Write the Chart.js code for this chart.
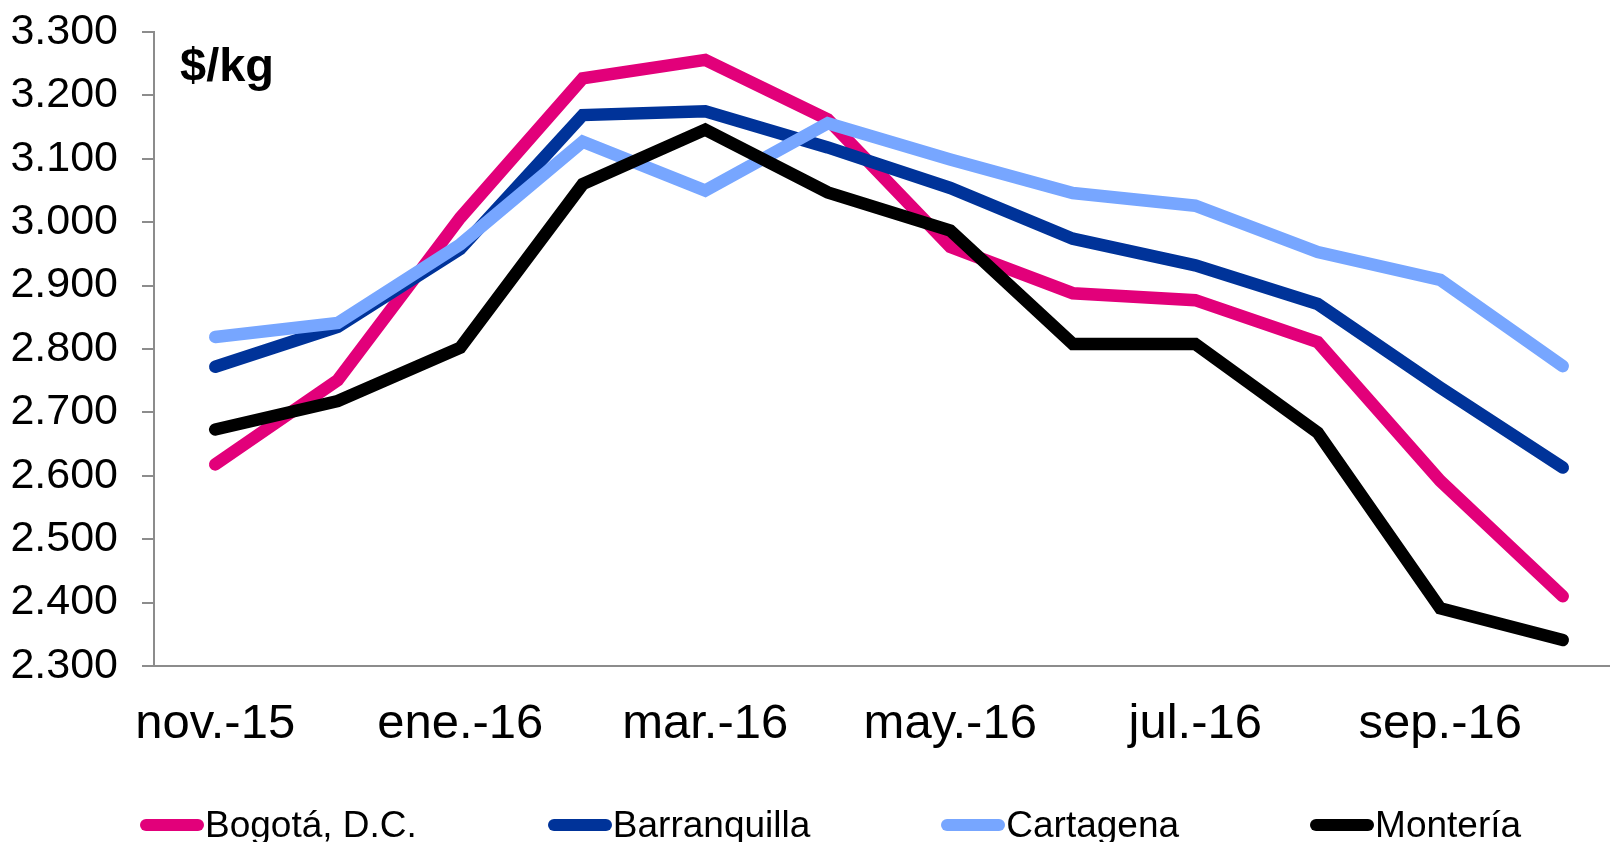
<!DOCTYPE html>
<html lang="es">
<head>
<meta charset="utf-8">
<title>Precio $/kg</title>
<script src="https://cdn.jsdelivr.net/npm/chart.js@4.4.1/dist/chart.umd.min.js"></script>
<style>
    html, body {
        margin: 0;
        padding: 0;
        background: #ffffff;
        overflow: hidden;
        width: 1610px;
        height: 842px;
    }
    #chartBox {
        position: absolute;
        left: 0;
        top: 0;
        width: 1624px;
        height: 842px;
    }
    #unidad {
        position: absolute;
        left: 180px;
        top: 41px;
        font: bold 47px "Liberation Sans", Arial, sans-serif;
        line-height: 1;
        color: #000;
    }
    #leyenda {
        position: absolute;
        left: 140px;
        top: 804px;
        display: flex;
        align-items: center;
        gap: 131px;
        font: 37px "Liberation Sans", Arial, sans-serif;
        color: #000;
        white-space: nowrap;
    }
    .item {
        display: flex;
        align-items: center;
    }
    .linea {
        width: 64px;
        height: 12.6px;
        border-radius: 6.3px;
        margin-right: 1px;
    }
</style>
</head>
<body>
<div id="chartBox"><canvas id="precioChart"></canvas></div>
<div id="unidad">$/kg</div>
<div id="leyenda"></div>

<script>
    // meses (nov.-15 a oct.-16)
    const meses = [
        "nov.-15", "dic.-15", "ene.-16", "feb.-16", "mar.-16", "abr.-16",
        "may.-16", "jun.-16", "jul.-16", "ago.-16", "sep.-16", "oct.-16",
    ];

    const bogota = [2618, 2751, 3007, 3227, 3256, 3162, 2961, 2888, 2877, 2811, 2592, 2410];
    const barranquilla = [2772, 2835, 2958, 3169, 3175, 3118, 3054, 2974, 2932, 2871, 2739, 2613];
    const cartagena = [2819, 2841, 2965, 3127, 3050, 3156, 3099, 3046, 3026, 2953, 2909, 2773];
    const monteria = [2673, 2718, 2802, 3060, 3146, 3047, 2987, 2808, 2808, 2668, 2391, 2341];

    const ciudades = ["Bogotá, D.C.", "Barranquilla", "Cartagena", "Montería"];
    const colores = ["#e2007a", "#003399", "#77a6ff", "#000000"];

    const yMin = 2300;
    const yMax = 3300;
    const yPaso = 100;

    const fuente = "'Liberation Sans', Arial, sans-serif";

    function formatoMiles(valor) {
        const miles = Math.floor(valor / 1000);
        const resto = String(Math.round(valor % 1000)).padStart(3, "0");
        return miles + "." + resto;
    }

    const series = [bogota, barranquilla, cartagena, monteria];

    // en Excel la ultima serie queda encima
    const datasets = series.map(function (valores, i) {
        return {
            label: ciudades[i],
            data: valores,
            borderColor: colores[i],
            backgroundColor: colores[i],
            borderWidth: 12.5,
            borderCapStyle: "round",
            borderJoinStyle: "miter",
            pointRadius: 0,
            pointHoverRadius: 0,
            tension: 0,
            fill: false,
            order: series.length - 1 - i,
        };
    });

    const ejeColor = "#8c8c8c";

    new Chart(document.getElementById("precioChart"), {
        type: "line",
        data: {
            labels: meses,
            datasets: datasets,
        },
        options: {
            responsive: true,
            maintainAspectRatio: false,
            animation: false,
            layout: {
                padding: {
                    top: 32,
                    right: 0,
                    bottom: 0,
                    left: 0,
                },
            },
            plugins: {
                legend: { display: false },
                tooltip: { enabled: false },
            },
            scales: {
                x: {
                    offset: true,
                    afterFit: function (scale) {
                        scale.height = 176;
                        scale.paddingLeft = 0;
                        scale.paddingRight = 0;
                    },
                    grid: {
                        display: true,
                        drawOnChartArea: false,
                        drawTicks: false,
                    },
                    border: {
                        display: true,
                        color: ejeColor,
                        width: 2,
                    },
                    ticks: {
                        autoSkip: false,
                        maxRotation: 0,
                        minRotation: 0,
                        padding: 29,
                        color: "#000",
                        font: { family: fuente, size: 49 },
                        callback: function (value, index) {
                            return index % 2 === 0 ? meses[index] : "";
                        },
                    },
                },
                y: {
                    min: yMin,
                    max: yMax,
                    afterFit: function (scale) {
                        scale.width = 154;
                        scale.paddingTop = 0;
                        scale.paddingBottom = 0;
                    },
                    grid: {
                        display: true,
                        drawOnChartArea: false,
                        drawTicks: true,
                        tickLength: 12,
                        color: ejeColor,
                        lineWidth: 2,
                    },
                    border: {
                        display: true,
                        color: ejeColor,
                        width: 2,
                    },
                    ticks: {
                        stepSize: yPaso,
                        padding: 24,
                        color: "#000",
                        font: { family: fuente, size: 43 },
                        callback: function (value) {
                            return formatoMiles(value);
                        },
                    },
                },
            },
        },
    });

    // leyenda
    const $leyenda = document.getElementById("leyenda");
    ciudades.forEach(function (nombre, i) {
        const item = document.createElement("div");
        item.className = "item";
        const linea = document.createElement("span");
        linea.className = "linea";
        linea.style.background = colores[i];
        const texto = document.createElement("span");
        texto.textContent = nombre;
        item.appendChild(linea);
        item.appendChild(texto);
        $leyenda.appendChild(item);
    });
</script>
</body>
</html>
